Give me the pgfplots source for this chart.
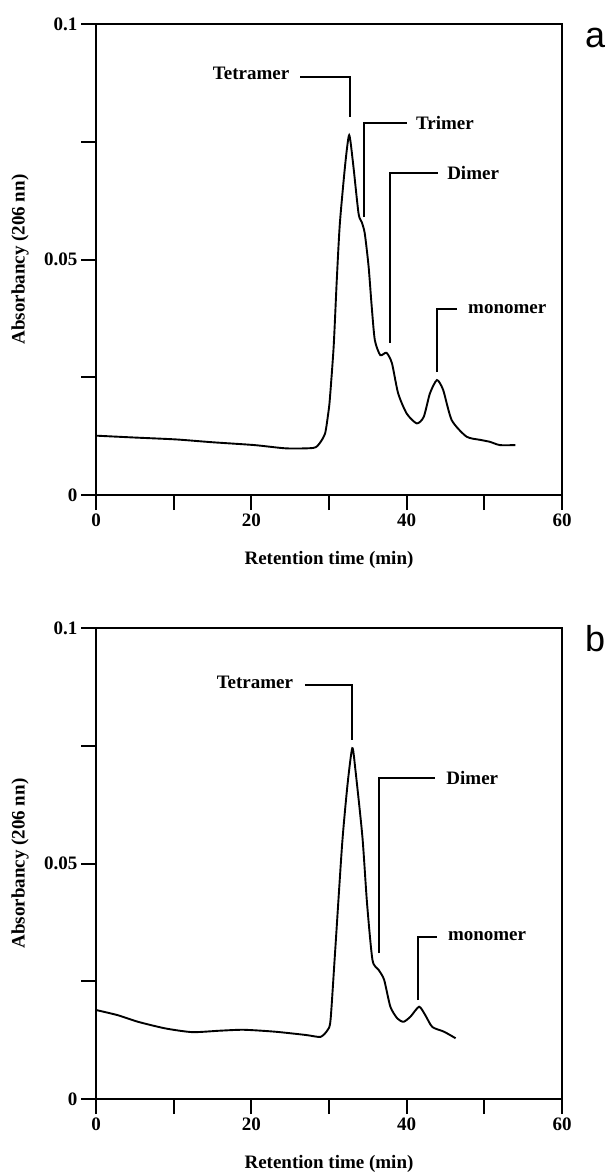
\documentclass[border=0pt]{standalone}
\usepackage{fontspec}
\setmainfont{Liberation Serif}
\newfontfamily\lsans{Liberation Sans}
\usepackage{pgfplots}
\pgfplotsset{compat=1.18}
\begin{document}
\begin{tikzpicture}
\useasboundingbox (0,0) rectangle (611pt,-1173pt);
\pgfplotsset{
 chrom/.style={
  scale only axis, width=466pt, height=471pt,
  xmin=0,xmax=60,ymin=0,ymax=0.1,
  xtick={0,10,...,60}, xticklabels={0,,20,,40,,60},
  ytick={0,0.025,0.05,0.075,0.1}, yticklabels={0,,0.05,,0.1},
  scaled y ticks=false,
  tick pos=left, tick align=outside, major tick length=15pt,
  axis line style={line width=2pt}, tick style={line width=2pt, black},
  ticklabel style={font=\fontsize{19}{22}\selectfont\bfseries},
  label style={font=\fontsize{19}{22}\selectfont\bfseries},
  xlabel={Retention time (min)}, ylabel={Absorbancy (206 nn)},
  xlabel style={at={(axis description cs:0.5,-0.138)}, anchor=center},
  ylabel style={at={(axis description cs:-0.163,0.5)}, anchor=center},
  clip=false,
 },
}
\tikzset{
 ann/.style={line width=2pt},
 annt/.style={font=\fontsize{19}{22}\selectfont\bfseries, inner sep=0pt},
}
% ---------------- panel a ----------------
\begin{axis}[chrom, at={(96pt,-495pt)}, anchor=south west]
\addplot[black, line width=1.9pt, smooth, tension=0.4] coordinates {
(0,0.0126) (5,0.0122) (10.3,0.0118) (15,0.0112) (20.4,0.0106) (24.5,0.0099) (28.0,0.0100)
(28.8,0.0110) (29.5,0.0131) (29.9,0.0173) (30.1,0.0202) (30.6,0.0315) (31.0,0.0456)
(31.4,0.0577) (32.1,0.0704) (32.6,0.0764) (33.1,0.0704) (33.8,0.0598) (34.2,0.0580)
(34.6,0.0556) (35.1,0.0485) (35.5,0.0400) (35.9,0.0329) (36.6,0.0297) (37.4,0.0302)
(38.1,0.0280) (38.9,0.0216) (40.0,0.0173) (41.3,0.0152) (42.2,0.0166) (43.0,0.0216)
(43.9,0.0244) (44.7,0.0223) (45.8,0.0159) (47.7,0.0124) (49.5,0.0117) (50.7,0.0113)
(52.0,0.0106) (54.0,0.0106)
};
% Tetramer
\draw[ann] (axis cs:26.3,0.0887) -- (axis cs:32.7,0.0887) -- (axis cs:32.7,0.0803);
\node[annt, anchor=east] at (axis cs:24.9,0.0895) {Tetramer};
% Trimer
\draw[ann] (axis cs:34.5,0.0590) -- (axis cs:34.5,0.0790) -- (axis cs:40.0,0.0790);
\node[annt, anchor=west] at (axis cs:41.2,0.0790) {Trimer};
% Dimer
\draw[ann] (axis cs:37.9,0.0323) -- (axis cs:37.9,0.0684) -- (axis cs:44.0,0.0684);
\node[annt, anchor=west] at (axis cs:45.2,0.0684) {Dimer};
% monomer
\draw[ann] (axis cs:43.9,0.0261) -- (axis cs:43.9,0.0395) -- (axis cs:46.5,0.0395);
\node[annt, anchor=west] at (axis cs:47.9,0.0395) {monomer};
\end{axis}
\node[anchor=base west, inner sep=0pt, font=\lsans\fontsize{36}{40}\selectfont] at (585pt,-47pt) {a};
% ---------------- panel b ----------------
\begin{axis}[chrom, at={(96pt,-1099pt)}, anchor=south west]
\addplot[black, line width=1.9pt, smooth, tension=0.4] coordinates {
(0,0.0189) (2.8,0.0178) (5.4,0.0164) (8.9,0.0150) (12.4,0.0142) (15.9,0.0145) (19.0,0.0147)
(23.0,0.0143) (27.0,0.0136) (28.9,0.0132) (29.8,0.0146) (30.2,0.0168) (30.8,0.0316)
(31.7,0.0543) (32.4,0.0670) (33.0,0.0745) (33.4,0.0699) (34.3,0.0557) (34.9,0.0415)
(35.6,0.0295) (36.4,0.0274) (37.1,0.0253) (37.9,0.0196) (38.8,0.0171) (39.6,0.0164)
(40.5,0.0175) (41.6,0.0196) (42.4,0.0178) (43.3,0.0153) (44.8,0.0143) (46.3,0.0129)
};
% Tetramer
\draw[ann] (axis cs:26.9,0.0879) -- (axis cs:32.95,0.0879) -- (axis cs:32.95,0.0762);
\node[annt, anchor=east] at (axis cs:25.4,0.0885) {Tetramer};
% Dimer
\draw[ann] (axis cs:36.5,0.0310) -- (axis cs:36.5,0.0681) -- (axis cs:43.7,0.0681);
\node[annt, anchor=west] at (axis cs:45.1,0.0681) {Dimer};
% monomer
\draw[ann] (axis cs:41.5,0.0210) -- (axis cs:41.5,0.0345) -- (axis cs:43.9,0.0345);
\node[annt, anchor=west] at (axis cs:45.3,0.0345) {monomer};
\end{axis}
\node[anchor=base west, inner sep=0pt, font=\lsans\fontsize{36}{40}\selectfont] at (585pt,-651pt) {b};
\end{tikzpicture}
\end{document}
